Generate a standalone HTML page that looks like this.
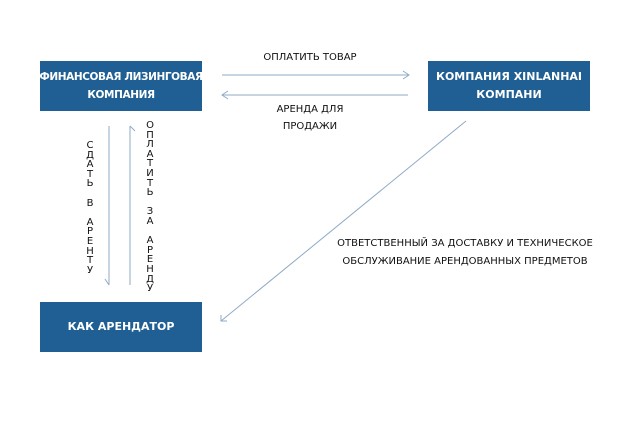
<!DOCTYPE html>
<html><head><meta charset="utf-8"><style>
body{margin:0;width:629px;height:427px;background:#fff;position:relative;overflow:hidden;font-family:"DejaVu Sans","Liberation Sans",sans-serif;}
.box{position:absolute;background:#1f5f93;color:#fff;font-weight:bold;font-size:11px;display:flex;align-items:center;justify-content:center;text-align:center;line-height:18px;white-space:nowrap;}
.t{position:absolute;font-size:10px;color:#111;text-align:center;line-height:17px;}
.v{position:absolute;font-size:10px;color:#111;width:12px;text-align:center;line-height:9.6px;}
</style></head><body>
<div class="box" style="left:40px;top:61px;width:162px;height:50px;font-size:10.5px;letter-spacing:-0.4px">ФИНАНСОВАЯ ЛИЗИНГОВАЯ<br>КОМПАНИЯ</div>
<div class="box" style="left:428px;top:61px;width:162px;height:50px">КОМПАНИЯ XINLANHAI<br>КОМПАНИ</div>
<div class="box" style="left:40px;top:302px;width:162px;height:50px">КАК АРЕНДАТОР</div>
<svg width="629" height="427" style="position:absolute;left:0;top:0" fill="none" stroke="#8fabc6" stroke-width="1">
<line x1="222" y1="75" x2="409" y2="75"/><polyline points="403,71 409,75 403,79"/>
<line x1="222" y1="95" x2="408" y2="95"/><polyline points="228,91 222,95 228,99"/>
<line x1="109" y1="126" x2="109" y2="285"/><polyline points="105,279 109,285"/>
<line x1="130" y1="126" x2="130" y2="285"/><polyline points="130,126 135,131"/>
<line x1="466" y1="121" x2="221" y2="321"/><polyline points="221,315 221,321 227,321"/>
</svg>
<div class="t" style="left:240px;top:49px;width:140px">ОПЛАТИТЬ ТОВАР</div>
<div class="t" style="left:250px;top:101px;width:120px">АРЕНДА ДЛЯ<br>ПРОДАЖИ</div>
<div class="t" style="left:320px;top:235px;width:290px;line-height:18px">ОТВЕТСТВЕННЫЙ ЗА ДОСТАВКУ И ТЕХНИЧЕСКОЕ<br>ОБСЛУЖИВАНИЕ АРЕНДОВАННЫХ ПРЕДМЕТОВ</div>
<div class="v" style="left:84px;top:141px">С<br>Д<br>А<br>Т<br>Ь<br>&nbsp;<br>В<br>&nbsp;<br>А<br>Р<br>Е<br>Н<br>Т<br>У</div>
<div class="v" style="left:144px;top:121px">О<br>П<br>Л<br>А<br>Т<br>И<br>Т<br>Ь<br>&nbsp;<br>З<br>А<br>&nbsp;<br>А<br>Р<br>Е<br>Н<br>Д<br>У</div>
</body></html>
